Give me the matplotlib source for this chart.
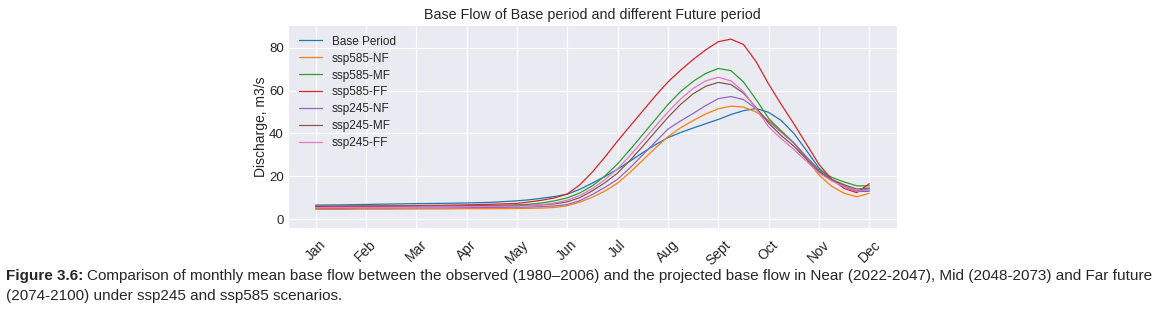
import matplotlib
matplotlib.use("Agg")
import matplotlib.pyplot as plt
import seaborn as sns

# ===== data (m3/s) =====
months = ['Jan', 'Feb', 'Mar', 'Apr', 'May', 'Jun', 'Jul', 'Aug', 'Sept', 'Oct', 'Nov', 'Dec']
# positions (in months) where the curves were read: half months to May, quarter months after
month_pos = [0, 0.5, 1, 1.5, 2, 2.5, 3, 3.5,
             4, 4.25, 4.5, 4.75, 5, 5.25, 5.5, 5.75, 6, 6.25, 6.5, 6.75, 7, 7.25, 7.5, 7.75,
             8, 8.25, 8.5, 8.75, 9, 9.25, 9.5, 9.75, 10, 10.25, 10.5, 10.75, 11]

base_period = [6.5, 6.6, 6.8, 7.0, 7.2, 7.3, 7.5, 7.8,
               8.5, 9.0, 9.7, 10.5, 11.6, 13.9, 16.8, 19.9, 23.3, 27.1, 31.0, 34.7, 38.0, 40.4, 42.5, 44.5,
               46.5, 48.8, 50.6, 51.6, 49.8, 46.0, 40.0, 32.0, 23.8, 18.3, 15.0, 12.8, 13.0]
ssp585_nf = [4.5, 4.5, 4.6, 4.6, 4.7, 4.7, 4.8, 4.8,
             4.9, 5.0, 5.1, 5.4, 6.2, 7.9, 10.2, 13.1, 16.8, 21.9, 27.5, 33.2, 38.5, 42.6, 46.0, 49.1,
             51.5, 52.7, 52.3, 50.0, 46.0, 41.3, 35.5, 28.0, 20.5, 15.3, 12.0, 10.4, 12.0]
ssp585_mf = [5.6, 5.7, 5.8, 5.9, 6.0, 6.1, 6.2, 6.3,
             6.6, 6.9, 7.5, 8.5, 9.9, 12.2, 15.5, 20.2, 25.8, 32.5, 39.5, 46.5, 53.5, 59.5, 64.3, 68.0,
             70.3, 69.3, 64.0, 55.8, 47.0, 41.0, 35.5, 29.0, 23.0, 19.5, 17.3, 15.5, 15.5]
ssp585_ff = [5.8, 5.9, 6.0, 6.1, 6.3, 6.4, 6.6, 6.9,
             7.3, 8.0, 8.8, 9.9, 11.7, 16.0, 22.0, 29.0, 36.5, 43.5, 50.5, 57.5, 64.0, 69.5, 74.5, 79.0,
             82.8, 84.0, 81.5, 73.5, 63.0, 53.5, 44.5, 35.0, 25.5, 18.5, 14.3, 12.3, 16.5]
ssp245_nf = [5.0, 5.0, 5.1, 5.1, 5.2, 5.2, 5.3, 5.4,
             5.5, 5.6, 5.8, 6.1, 6.8, 8.6, 11.5, 14.8, 18.6, 24.0, 30.0, 36.0, 42.0, 45.8, 49.3, 53.0,
             56.2, 57.2, 55.8, 51.5, 45.5, 40.5, 35.5, 29.0, 22.5, 18.5, 15.5, 13.2, 14.0]
ssp245_mf = [6.0, 6.0, 6.1, 6.1, 6.1, 6.2, 6.2, 6.2,
             6.3, 6.4, 6.6, 7.1, 8.0, 10.0, 13.2, 17.0, 21.5, 27.5, 34.0, 40.8, 47.5, 53.5, 58.5, 62.0,
             63.8, 62.8, 58.8, 52.0, 44.7, 39.0, 34.0, 28.0, 22.0, 18.5, 16.0, 14.0, 14.5]
ssp245_ff = [5.3, 5.4, 5.4, 5.5, 5.6, 5.7, 5.8, 5.9,
             6.0, 6.2, 6.7, 7.5, 8.8, 11.0, 14.2, 18.5, 23.5, 29.8, 36.5, 43.3, 50.0, 56.0, 61.0, 64.5,
             66.2, 64.5, 59.5, 51.5, 43.0, 37.5, 32.5, 27.0, 21.5, 17.8, 15.0, 13.0, 13.5]

series = [('Base Period', base_period), ('ssp585-NF', ssp585_nf), ('ssp585-MF', ssp585_mf),
          ('ssp585-FF', ssp585_ff), ('ssp245-NF', ssp245_nf), ('ssp245-MF', ssp245_mf),
          ('ssp245-FF', ssp245_ff)]

caption_bold = 'Figure 3.6:'
caption_1 = ('Comparison of monthly mean base flow between the observed (1980\u20132006) and the '
             'projected base flow in Near (2022-2047), Mid (2048-2073) and Far future')
caption_2 = '(2074-2100) under ssp245 and ssp585 scenarios.'

sns.set_style('darkgrid')
plt.rcParams['font.family'] = ['Liberation Sans', 'DejaVu Sans']

fig = plt.figure(figsize=(11.63, 3.09), dpi=100)
ax = fig.add_axes([0.2476, 0.2621, 0.5237, 0.657])

for label, vals in series:
    ax.plot(month_pos, vals, linewidth=0.9, label=label)

ax.set_xticks(range(len(months)))
ax.set_xticklabels(months, rotation=45, fontsize=10, color='#262626')
ax.tick_params(axis='y', labelsize=9.5, labelcolor='#262626', length=0, pad=3)
ax.set_ylim(-4.2, 90.6)
ax.set_yticks([0, 20, 40, 60, 80])
ax.set_ylabel('Discharge, m3/s', fontsize=10, color='#262626', labelpad=1)
ax.set_title('Base Flow of Base period and different Future period', fontsize=10.3, color='#262626', pad=4)
ax.legend(loc='upper left', fontsize=8.5, frameon=False, labelspacing=0.42)

# caption below the chart: bold prefix then regular text, sized so line 1 ends near x=1150 px
renderer = fig.canvas.get_renderer()
W = fig.bbox.width
y1 = 1 - 280 / 309
y2 = 1 - 300 / 309
fs = 11.2
while True:
    t_b = fig.text(0.005, y1, caption_bold, fontweight='bold', fontsize=fs, va='baseline')
    bb = t_b.get_window_extent(renderer=renderer)
    t_1 = fig.text(bb.x1 / W + 0.003, y1, caption_1, fontsize=fs, va='baseline')
    if t_1.get_window_extent(renderer=renderer).x1 <= 1152 or fs < 10:
        break
    t_b.remove()
    t_1.remove()
    fs -= 0.05
fig.text(0.005, y2, caption_2, fontsize=fs, va='baseline')

fig.savefig('out.png', dpi=100)
